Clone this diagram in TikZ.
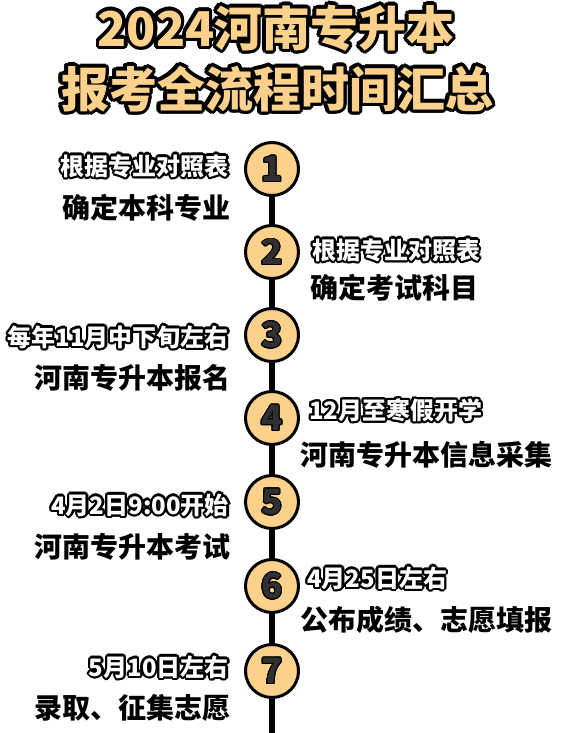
\documentclass[tikz,border=0pt]{standalone}
\usepackage{fontspec}
\setmainfont{Noto Sans CJK SC}[BoldFont={Noto Sans CJK SC Black}]
\usepackage{tikz}
\usetikzlibrary{positioning, backgrounds}
\definecolor{stepgold}{RGB}{252, 209, 140}
\definecolor{digitgray}{RGB}{48, 48, 48}

% text with a drawn rim: #1 rim colour, #2 fill colour, #3 rim width, #4 text
\newcommand{\rimtext}[4]{%
    \leavevmode\rlap{\color{#1}\foreach \ang in {0,22.5,...,337.5}{%
        \pgfmathsetlengthmacro\rimdx{#3*cos(\ang)}%
        \pgfmathsetlengthmacro\rimdy{#3*sin(\ang)}%
        \rlap{\kern\rimdx\raisebox{\rimdy}{#4}}}}%
    {\color{#2}#4}}

\begin{document}
\begin{tikzpicture}[
        x=1pt, y=-1pt,
        % --- TikZ Styles ---
        stepcircle/.style={
            circle, draw=black, line width=3pt, fill=stepgold,
            minimum size=53pt, inner sep=0pt,
            font=\bfseries\fontsize{35}{35}\selectfont
        },
        titletext/.style={inner sep=0pt, font=\bfseries\fontsize{48}{48}\selectfont},
        datetext/.style={inner sep=0pt, font=\bfseries\fontsize{24}{24}\selectfont},
        tasktext/.style={inner sep=0pt, font=\bfseries\fontsize{28}{28}\selectfont},
        spine/.style={line width=6pt}
    ]
    \useasboundingbox (0,0) rectangle (562,733);

    % --- 1. TITLE ---
    \node[titletext] (title1) at (276,28) {\rimtext{black}{stepgold}{3.5pt}{2024河南专升本}};
    \node[titletext] (title2) at (277,89) {\rimtext{black}{stepgold}{3.5pt}{报考全流程时间汇总}};

    % --- 2. STEPS ---
    \node[stepcircle] (s1) at (272,169) {\rimtext{black}{digitgray}{0.8pt}{1}};
    \node[stepcircle] (s2) at (272,252) {\rimtext{black}{digitgray}{0.8pt}{2}};
    \node[stepcircle] (s3) at (272,335) {\rimtext{black}{digitgray}{0.8pt}{3}};
    \node[stepcircle] (s4) at (272,418) {\rimtext{black}{digitgray}{0.8pt}{4}};
    \node[stepcircle] (s5) at (272,502) {\rimtext{black}{digitgray}{0.8pt}{5}};
    \node[stepcircle] (s6) at (272,586) {\rimtext{black}{digitgray}{0.8pt}{6}};
    \node[stepcircle] (s7) at (272,671) {\rimtext{black}{digitgray}{0.8pt}{7}};

    % --- 3. LABELS ---
    \node[datetext, anchor=east] (d1) at (229,166) {\rimtext{black}{white}{2.2pt}{根据专业对照表}};
    \node[tasktext, anchor=east] (k1) at (231,208) {确定本科专业};

    \node[datetext, anchor=west] (d2) at (312,250) {\rimtext{black}{white}{2.2pt}{根据专业对照表}};
    \node[tasktext, anchor=west] (k2) at (310,288) {确定考试科目};

    \node[datetext, anchor=east] (d3) at (229,337) {\rimtext{black}{white}{2.2pt}{每年11月中下旬左右}};
    \node[tasktext, anchor=east] (k3) at (231,378) {河南专升本报名};

    \node[datetext, anchor=west] (d4) at (309,410) {\rimtext{black}{white}{2.2pt}{12月至寒假开学}};
    \node[tasktext, anchor=west] (k4) at (300,455) {河南专升本信息采集};

    \node[datetext, anchor=east] (d5) at (229,505) {\rimtext{black}{white}{2.2pt}{4月2日9:00开始}};
    \node[tasktext, anchor=east] (k5) at (231,547) {河南专升本考试};

    \node[datetext, anchor=west] (d6) at (307,578) {\rimtext{black}{white}{2.2pt}{4月25日左右}};
    \node[tasktext, anchor=west] (k6) at (300,620) {公布成绩、志愿填报};

    \node[datetext, anchor=east] (d7) at (229,667) {\rimtext{black}{white}{2.2pt}{5月10日左右}};
    \node[tasktext, anchor=east] (k7) at (231,708) {录取、征集志愿};

    % --- CONNECTIONS ---
    \coordinate (spineend) at (272,733);
    \begin{scope}[on background layer]
        \fill[white] (0,0) rectangle (562,733);
        \draw[spine] (s1.center) -- (spineend);
    \end{scope}

\end{tikzpicture}
\end{document}
